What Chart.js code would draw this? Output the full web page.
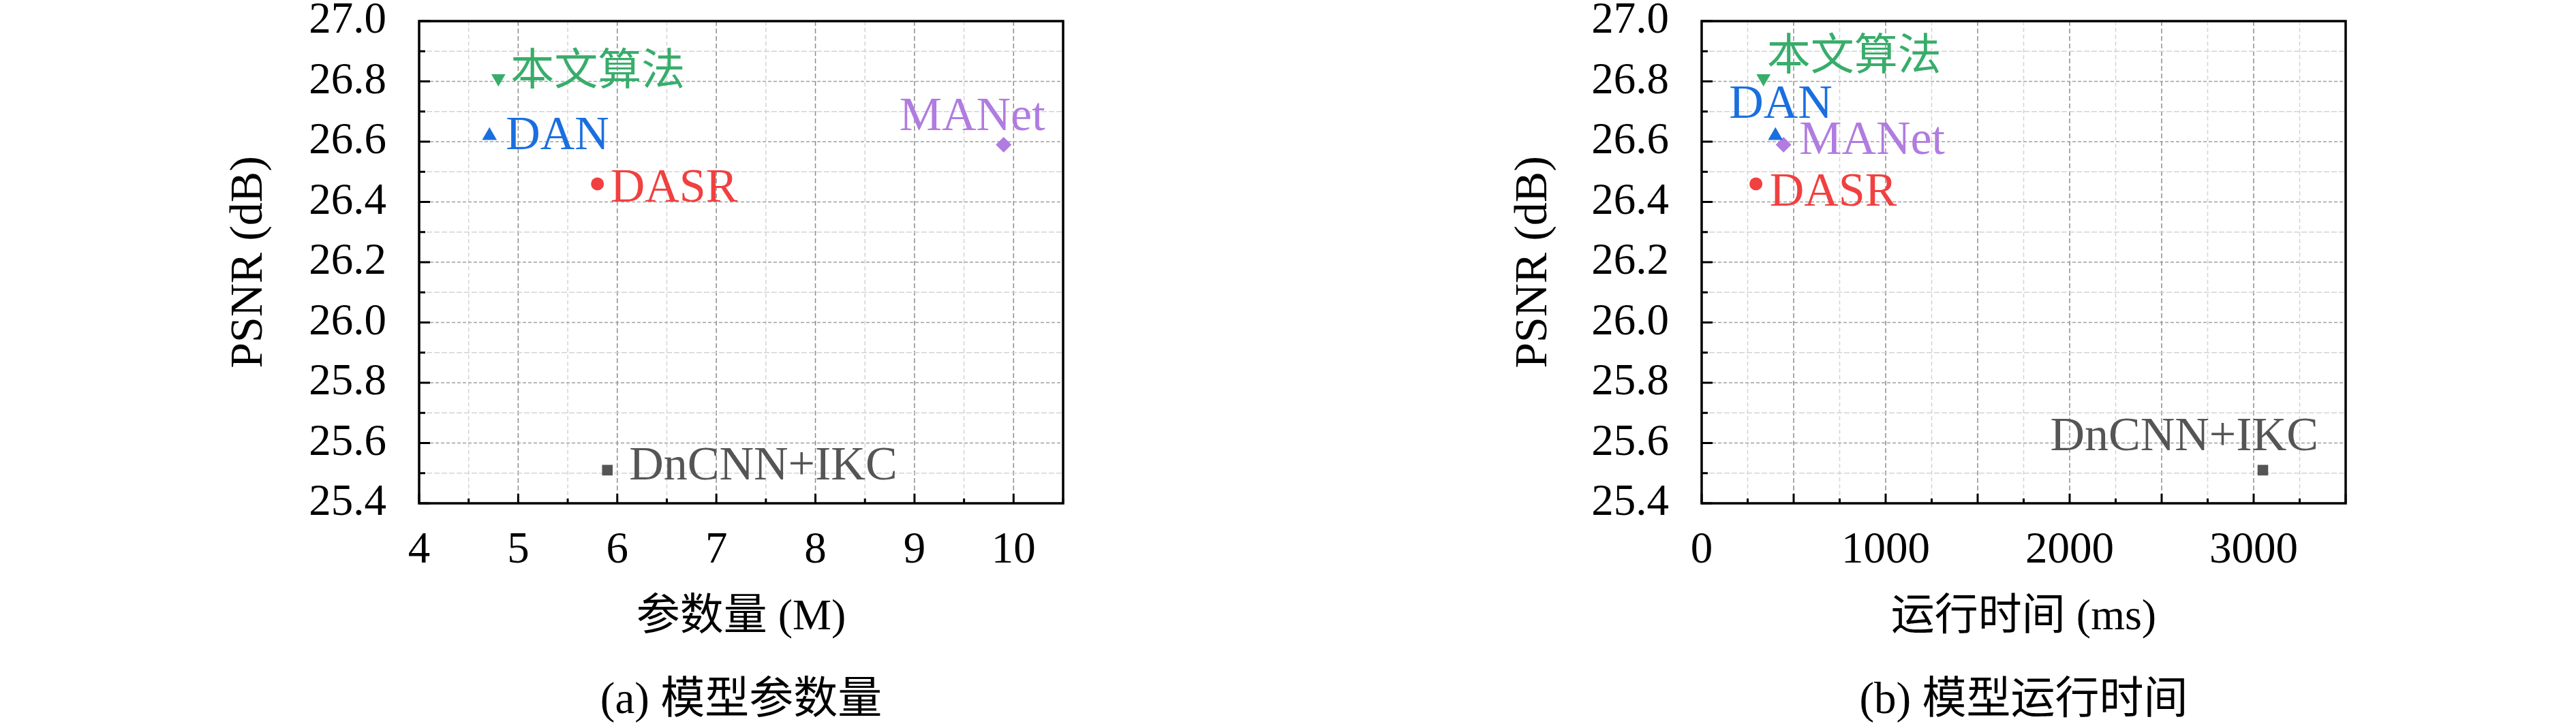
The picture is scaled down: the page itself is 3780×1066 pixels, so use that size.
<!DOCTYPE html>
<html>
<head>
<meta charset="utf-8">
<script src="https://cdn.jsdelivr.net/npm/chart.js@4.4.1/dist/chart.umd.min.js"></script>
<style>
  body { margin: 0; background: #fff; width: 3780px; height: 1066px; position: relative; overflow: hidden; }
  .panel { position: absolute; top: 0; width: 1890px; height: 1066px; }
  .caption { position: absolute; top: 972px; height: 66px; line-height: 66px; text-align: center;
             font: 65px "Liberation Serif", "Noto Sans CJK SC", serif; color: #000; white-space: nowrap; }
</style>
</head>
<body>
<div class="panel" style="left:0"><canvas id="chartParams" width="1890" height="1066"></canvas></div>
<div class="panel" style="left:1890px"><canvas id="chartTime" width="1890" height="1066"></canvas></div>
<div class="caption" style="left:615px;width:945px">(a) 模型参数量</div>
<div class="caption" style="left:2497px;width:945px">(b) 模型运行时间</div>
<script>
// 方法与数值
const methods = ['本文算法', 'DAN', 'DASR', 'MANet', 'DnCNN+IKC'];
const paramsM = [4.80, 4.71, 5.80, 9.90, 5.90];       // 参数量 (M)
const runtimeMs = [336, 401, 295, 445, 3050];          // 运行时间 (ms)
const psnrDb = [26.81, 26.62, 26.46, 26.59, 25.51];    // PSNR (dB)

// 样式
const colors = ['#38ad6b', '#1a6fdf', '#f14040', '#b07ce0', '#555555'];
const markers = ['triangle', 'triangle', 'circle', 'rectRot', 'rect'];
const markerRot = [180, 0, 0, 0, 0];
const markerSize = [12, 12.5, 9.5, 11.5, 11];

// 文字标签相对数据点的偏移 (px)
const labelOffsetA = [[18, -8], [24, 1], [19, 8], [-153, -40], [32, -5]];
const labelOffsetB = [[5, -30], [-68, -45], [20, 14], [23, -5], [-312, -48]];

const SERIF = '"Liberation Serif", "Noto Sans CJK SC", serif';
const isStep = (v, s) => Math.abs(v / s - Math.round(v / s)) < 1e-6;

// 网格线、边框、内向刻度和点标签
const gridFrame = {
  id: 'gridFrame',
  beforeDatasetsDraw(chart, args, opts) {
    const { ctx, chartArea: a, scales: { x, y } } = chart;
    ctx.save();
    ctx.beginPath();
    ctx.rect(a.left, a.top, a.right - a.left, a.bottom - a.top);
    ctx.clip();
    ctx.lineWidth = 1.5;
    x.ticks.forEach(t => {
      const px = x.getPixelForValue(t.value);
      const major = isStep(t.value, opts.xMajor);
      ctx.strokeStyle = major ? '#8c8c8c' : '#d4d4d4';
      ctx.setLineDash(major ? [7, 4] : [6, 4]);
      ctx.beginPath(); ctx.moveTo(px, a.top); ctx.lineTo(px, a.bottom); ctx.stroke();
    });
    y.ticks.forEach(t => {
      const py = y.getPixelForValue(t.value);
      const major = isStep(t.value, 0.2);
      ctx.strokeStyle = major ? '#a0a0a0' : '#d4d4d4';
      ctx.setLineDash(major ? [5, 3] : [8, 3]);
      ctx.beginPath(); ctx.moveTo(a.left, py); ctx.lineTo(a.right, py); ctx.stroke();
    });
    ctx.restore();
  },
  afterDatasetsDraw(chart, args, opts) {
    const { ctx, chartArea: a, scales: { x, y } } = chart;
    ctx.save();
    ctx.setLineDash([]);
    ctx.strokeStyle = '#000';
    ctx.lineWidth = 3;
    x.ticks.forEach(t => {
      const px = x.getPixelForValue(t.value);
      const len = isStep(t.value, opts.xMajor) ? 14 : 7;
      ctx.beginPath(); ctx.moveTo(px, a.bottom); ctx.lineTo(px, a.bottom - len); ctx.stroke();
    });
    y.ticks.forEach(t => {
      const py = y.getPixelForValue(t.value);
      const len = isStep(t.value, 0.2) ? 16 : 9;
      ctx.beginPath(); ctx.moveTo(a.left, py); ctx.lineTo(a.left + len, py); ctx.stroke();
    });
    ctx.lineWidth = 3.5;
    ctx.strokeRect(a.left, a.top, a.right - a.left, a.bottom - a.top);

    chart.data.datasets.forEach((ds, i) => {
      const pt = chart.getDatasetMeta(i).data[0];
      const [dx, dy] = opts.offsets[i];
      const cjk = /[\u4e00-\u9fff]/.test(ds.label);
      ctx.font = (cjk ? 64 : 70) + 'px ' + SERIF;
      ctx.fillStyle = colors[i];
      ctx.textAlign = 'left';
      ctx.textBaseline = 'middle';
      ctx.fillText(ds.label, pt.x + dx, pt.y + dy);
    });
    ctx.restore();
  }
};

// 固定绘图区位置：不让刻度标签撑开边距
function noPad(s) {
  s.paddingTop = 0; s.paddingBottom = 0; s.paddingLeft = 0; s.paddingRight = 0;
}

function makeChart(id, xs, cfg) {
  return new Chart(document.getElementById(id), {
    type: 'scatter',
    data: {
      datasets: methods.map((m, i) => ({
        label: m,
        data: [{ x: xs[i], y: psnrDb[i] }],
        backgroundColor: colors[i],
        pointBackgroundColor: colors[i],
        pointBorderWidth: 0,
        borderWidth: 0,
        pointStyle: markers[i],
        pointRotation: markerRot[i],
        pointRadius: markerSize[i],
        pointHoverRadius: markerSize[i]
      }))
    },
    options: {
      responsive: false,
      animation: false,
      devicePixelRatio: 1,
      layout: { padding: { left: 0, right: cfg.padRight, top: 31, bottom: 0 } },
      plugins: {
        legend: { display: false },
        tooltip: { enabled: false },
        gridFrame: { xMajor: cfg.major, offsets: cfg.offsets }
      },
      scales: {
        x: {
          type: 'linear',
          min: cfg.min,
          max: cfg.max,
          afterFit: s => { s.height = 1066 - 739; noPad(s); },
          grid: { display: false, drawTicks: false },
          border: { display: false },
          ticks: {
            stepSize: cfg.step,
            autoSkip: false,
            maxRotation: 0,
            padding: 31,
            color: '#000',
            font: { family: SERIF, size: 65 },
            callback: v => isStep(v, cfg.labelStep) ? String(v) : ''
          },
          title: {
            display: true,
            text: cfg.title,
            color: '#000',
            font: { family: SERIF, size: 64 },
            padding: { top: 0, bottom: 120 }
          }
        },
        y: {
          type: 'linear',
          min: 25.4,
          max: 27.0,
          afterFit: s => { s.width = cfg.plotLeft; noPad(s); },
          grid: { display: false, drawTicks: false },
          border: { display: false },
          ticks: {
            stepSize: 0.1,
            autoSkip: false,
            padding: 48,
            color: '#000',
            font: { family: SERIF, size: 65 },
            callback: v => isStep(v, 0.2) ? v.toFixed(1) : ''
          },
          title: {
            display: true,
            text: 'PSNR (dB)',
            color: '#000',
            font: { family: SERIF, size: 68 },
            padding: { top: cfg.yTitlePad, bottom: 0 }
          }
        }
      }
    },
    plugins: [gridFrame]
  });
}

makeChart('chartParams', paramsM, {
  min: 4, max: 10.5, step: 0.5, major: 1, labelStep: 1,
  title: '参数量 (M)', plotLeft: 615, padRight: 330, yTitlePad: 325, offsets: labelOffsetA
});
makeChart('chartTime', runtimeMs, {
  min: 0, max: 3500, step: 250, major: 500, labelStep: 1000,
  title: '运行时间 (ms)', plotLeft: 607, padRight: 338, yTitlePad: 320, offsets: labelOffsetB
});
</script>
</body>
</html>
